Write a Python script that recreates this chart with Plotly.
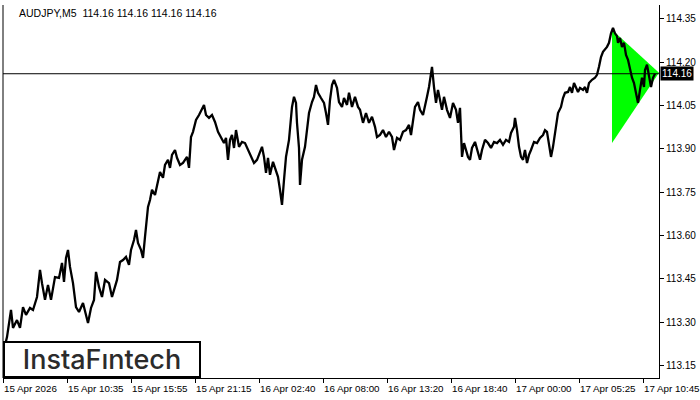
import plotly.graph_objects as go

# ---- data ----
symbol_title = "AUDJPY,M5  114.16 114.16 114.16 114.16"
last_price = 114.16

# M5 bar number (from first bar on chart) and price
bar_no = [2, 4, 8, 10, 14, 17, 20, 23, 27, 30, 34, 37, 39, 42, 45, 48, 52, 56, 59, 61,
          63, 65, 67, 70, 73, 76, 80, 83, 85, 88, 91, 93, 96, 99, 102, 106, 109, 111, 114, 117,
          120, 123, 126, 128, 131, 133, 135, 138, 140, 142, 144, 145, 147, 149, 152, 155, 157, 160, 162, 165,
          167, 169, 172, 174, 177, 180, 184, 186, 188, 190, 193, 196, 199, 201, 203, 206, 209, 212, 215, 218,
          221, 223, 225, 227, 229, 231, 233, 236, 239, 242, 245, 248, 251, 254, 257, 259, 261, 263, 265, 267,
          270, 273, 275, 277, 279, 281, 283, 286, 288, 289, 291, 293, 294, 296, 297, 299, 302, 304, 306, 309,
          311, 313, 315, 318, 321, 323, 325, 327, 329, 331, 334, 336, 339, 341, 344, 346, 349, 352, 355, 357,
          360, 363, 366, 369, 372, 374, 377, 380, 383, 386, 389, 391, 394, 397, 400, 403, 406, 408, 410, 412,
          415, 417, 420, 422, 424, 426, 428, 429, 431, 433, 435, 437, 439, 441, 444, 447, 450, 453, 455, 457,
          458, 459, 461, 463, 465, 467, 469, 472, 474, 477, 479, 482, 485, 488, 491, 494, 497, 500, 503, 506,
          508, 511, 512, 514, 516, 518, 520, 522, 524, 526, 528, 531, 534, 537, 540, 542, 544, 546, 548, 550,
          553, 555, 558, 560, 562, 565, 567, 569, 571, 573, 575, 577, 580, 582, 584, 586, 589, 592, 594, 596,
          598, 600, 602, 604, 606, 608, 610, 612, 614, 615, 617, 619, 621, 623, 625, 627, 629, 631, 633, 635,
          637, 639, 641, 642, 644, 646, 648, 650, 652]
price = [113.22, 113.248, 113.342, 113.28, 113.307, 113.28, 113.352, 113.325, 113.349, 113.342,
         113.387, 113.481, 113.435, 113.377, 113.429, 113.377, 113.456, 113.453, 113.505, 113.439,
         113.522, 113.55, 113.491, 113.435, 113.352, 113.335, 113.366, 113.325, 113.297, 113.349,
         113.377, 113.474, 113.422, 113.387, 113.446, 113.435, 113.387, 113.411, 113.446, 113.508,
         113.515, 113.526, 113.498, 113.55, 113.584, 113.619, 113.574, 113.55, 113.522, 113.595,
         113.654, 113.699, 113.723, 113.758, 113.74, 113.792, 113.82, 113.80, 113.844, 113.862,
         113.834, 113.879, 113.896, 113.869, 113.844, 113.851, 113.872, 113.834, 113.941, 113.959,
         114.00, 114.017, 114.035, 114.052, 114.017, 114.007, 114.017, 113.993, 113.959, 113.938,
         113.92, 113.938, 113.862, 113.931, 113.948, 113.903, 113.965, 113.907, 113.924, 113.92,
         113.896, 113.869, 113.851, 113.862, 113.889, 113.907, 113.872, 113.817, 113.869, 113.81,
         113.855, 113.827, 113.803, 113.758, 113.706, 113.792, 113.872, 113.931, 113.993, 114.045,
         114.08, 114.059, 113.99, 113.903, 113.775, 113.862, 113.907, 113.976, 114.024, 114.062,
         114.08, 114.121, 114.094, 114.076, 114.059, 114.024, 113.983, 114.069, 114.121, 114.139,
         114.111, 114.062, 114.045, 114.076, 114.052, 114.094, 114.045, 114.08, 114.045, 114.035,
         113.99, 114.024, 113.99, 114.011, 113.976, 113.941, 113.948, 113.965, 113.941, 113.959,
         113.941, 113.896, 113.938, 113.931, 113.959, 113.965, 113.983, 113.948, 114.00, 114.045,
         114.062, 114.035, 114.017, 114.045, 114.08, 114.114, 114.163, 114.184, 114.114, 114.059,
         114.104, 114.069, 114.035, 114.08, 114.035, 114.007, 114.059, 114.035, 113.99, 114.042,
         113.972, 113.872, 113.92, 113.896, 113.872, 113.862, 113.903, 113.924, 113.896, 113.862,
         113.896, 113.931, 113.92, 113.903, 113.924, 113.92, 113.931, 113.914, 113.931, 113.924,
         113.955, 113.976, 114.007, 113.965, 113.907, 113.872, 113.862, 113.896, 113.851, 113.879,
         113.896, 113.924, 113.92, 113.938, 113.948, 113.965, 113.959, 113.92, 113.872, 113.907,
         113.983, 114.024, 114.045, 114.076, 114.094, 114.097, 114.114, 114.094, 114.128, 114.114,
         114.097, 114.111, 114.104, 114.114, 114.094, 114.128, 114.139, 114.146, 114.156, 114.184,
         114.218, 114.236, 114.243, 114.253, 114.267, 114.30, 114.319, 114.30, 114.29, 114.267,
         114.284, 114.253, 114.267, 114.225, 114.208, 114.173, 114.146, 114.128, 114.087, 114.059,
         114.104, 114.146, 114.114, 114.173, 114.191, 114.149, 114.114, 114.146, 114.16]

# bullish pennant (triangle) corners: bar number, price
pennant_bar = [609, 609, 656]
pennant_price = [114.312, 113.92, 114.163]

# axes
x_tick_bars = [0, 64, 128, 192, 256, 320, 384, 448, 512, 576, 640]
x_tick_labels = ["15 Apr 2026", "15 Apr 10:35", "15 Apr 15:55", "15 Apr 21:15",
                 "16 Apr 02:40", "16 Apr 08:00", "16 Apr 13:20", "16 Apr 18:40",
                 "17 Apr 00:00", "17 Apr 05:25", "17 Apr 10:45"]
y_ticks = [113.15, 113.30, 113.45, 113.60, 113.75, 113.90, 114.05, 114.20, 114.35]

x_range = [0, 656]
y_range = [113.1065, 114.398]

FONT = "Liberation Sans"

fig = go.Figure()

fig.add_trace(go.Scatter(
    x=pennant_bar, y=pennant_price, fill="toself", mode="lines",
    line=dict(width=0, color="#00ff00"), fillcolor="#00ff00",
    hoverinfo="skip", showlegend=False))

fig.add_trace(go.Scatter(
    x=bar_no, y=price, mode="lines",
    line=dict(color="black", width=2.3), showlegend=False))

# current price line
fig.add_shape(type="line", xref="paper", x0=0, x1=1, yref="y",
              y0=last_price, y1=last_price, line=dict(color="black", width=1))
# left frame line
fig.add_shape(type="line", xref="paper", x0=0, x1=0, yref="paper", y0=0, y1=1,
              line=dict(color="black", width=1))

# x tick labels, left-aligned at ticks
for b, t in zip(x_tick_bars, x_tick_labels):
    fig.add_annotation(x=b, y=0, xref="x", yref="paper", text=t, showarrow=False,
                       xanchor="left", yanchor="top", yshift=-3, xshift=-1,
                       font=dict(family=FONT, size=9.8, color="black"))

# title
fig.add_annotation(x=0, y=1, xref="paper", yref="paper", text=symbol_title,
                   showarrow=False, xanchor="left", yanchor="top", xshift=14, yshift=0,
                   font=dict(family=FONT, size=10.5, color="black"))

# price label
fig.add_annotation(x=1, y=last_price, xref="paper", yref="y", text=f"{last_price:.2f}",
                   showarrow=False, xanchor="left", yanchor="middle", xshift=1,
                   bgcolor="black", borderpad=1,
                   font=dict(family=FONT, size=10, color="white"))

# logo
fig.add_annotation(x=0, y=0, xref="paper", yref="paper", text="InstaFıntech",
                   showarrow=False, xanchor="left", yanchor="bottom",
                   width=194, height=33, bgcolor="white", bordercolor="black",
                   borderwidth=2, borderpad=0,
                   font=dict(family="Inter", size=27, color="#2b2b2b", weight=500))

fig.update_layout(
    width=700, height=400,
    margin=dict(l=3, r=41, t=5, b=22),
    paper_bgcolor="white", plot_bgcolor="white",
    xaxis=dict(range=x_range, showgrid=False, zeroline=False,
               showline=True, linecolor="black", linewidth=1,
               tickmode="array", tickvals=x_tick_bars, ticktext=[""] * len(x_tick_bars),
               ticks="outside", ticklen=4, tickcolor="black"),
    yaxis=dict(range=y_range, side="right", showgrid=False, zeroline=False,
               showline=True, linecolor="black", linewidth=1,
               tickmode="array", tickvals=y_ticks,
               ticktext=[f"{v:.2f}" for v in y_ticks],
               ticks="outside", ticklen=4, tickcolor="black",
               tickfont=dict(family=FONT, size=10, color="black")),
    hovermode=False,
)

fig.write_html("out.html", config={"displayModeBar": False},
               post_script="document.body.style.margin='0';document.body.style.overflow='hidden';")
